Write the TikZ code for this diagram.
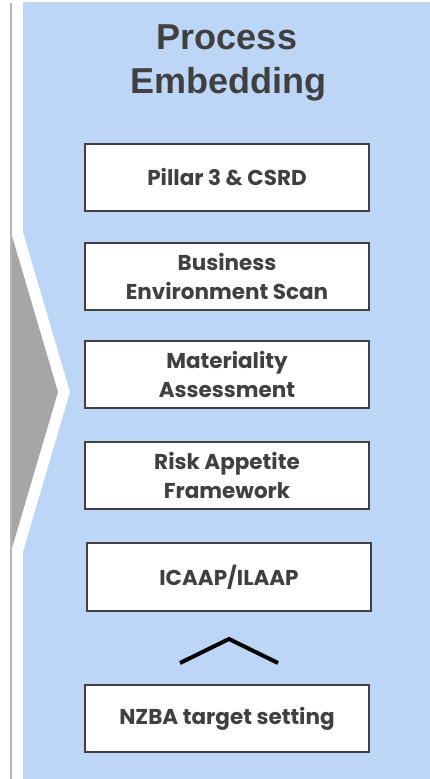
\documentclass[tikz,border=0pt]{standalone}
\usepackage{fontspec}
\setmainfont{Poppins}
\newfontfamily\titlefont{Liberation Sans}
\definecolor{panelblue}{HTML}{BDD6F8}
\definecolor{txtgray}{HTML}{404040}
\definecolor{chevgray}{HTML}{A6A6A6}
\definecolor{linegray}{HTML}{B4B4B4}
\tikzset{
  stepbox/.style={draw=txtgray, line width=2pt, fill=white, minimum width=284pt, minimum height=67pt,
    inner sep=0pt, align=center, text=txtgray, font=\fontsize{21.5}{29}\selectfont\bfseries},
  titletext/.style={text=txtgray, font=\titlefont\fontsize{36}{44}\selectfont\bfseries, anchor=base},
}
\begin{document}
\begin{tikzpicture}[x=1pt,y=-1pt]
\useasboundingbox (0,0) rectangle (430,779);
\fill[white] (0,0) rectangle (430,779);
% blue panel with notch
\fill[panelblue] (23,2) -- (430,2) -- (430,779) -- (23,779) -- (23,552) -- (70,392) -- (23,232) -- cycle;
% left gray line
\draw[linegray, line width=1.8pt] (11.3,3) -- (11.3,779);
% gray chevron
\fill[chevgray] (12,236) -- (58,392) -- (12,548) -- cycle;
% title
\node[titletext] (t1) at (227,49) {Process};
\node[titletext] (t2) at (228,93) {Embedding};
% boxes
\node[stepbox] (b1) at (227,177.5) {Pillar 3 \& CSRD};
\node[stepbox] (b2) at (227,276.5) {Business\\Environment Scan};
\node[stepbox] (b3) at (227,374.5) {Materiality\\Assessment};
\node[stepbox] (b4) at (227,475.5) {Risk Appetite\\Framework};
\node[stepbox, minimum height=68pt] (b5) at (229,577) {ICAAP/ILAAP};
\node[stepbox] (b6) at (227,718.5) {NZBA target setting};
% caret
\draw[black, line width=4pt] (180,663) -- (229,639) -- (278,663);
\end{tikzpicture}
\end{document}
